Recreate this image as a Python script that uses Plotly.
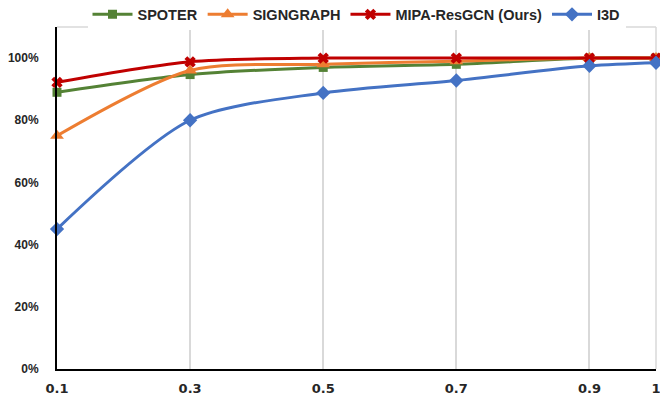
import plotly.graph_objects as go

x_vals = [0.1, 0.3, 0.5, 0.7, 0.9, 1.0]
x_ticks = ["0.1", "0.3", "0.5", "0.7", "0.9", "1"]
spoter = [0.89, 0.947, 0.97, 0.98, 1.0, 1.0]
signgraph = [0.75, 0.96, 0.98, 0.99, 1.0, 1.0]
mipa = [0.922, 0.988, 1.0, 1.0, 1.0, 1.0]
i3d = [0.45, 0.80, 0.888, 0.928, 0.975, 0.985]

series = [
    ("SPOTER", spoter, "#548235", "square", 9),
    ("SIGNGRAPH", signgraph, "#ED7D31", "triangle-up", 12),
    ("MIPA-ResGCN (Ours)", mipa, "#C00000", "x", 10),
    ("I3D", i3d, "#4472C4", "diamond", 11),
]

fig = go.Figure()
for name, vals, color, sym, msize in series:
    fig.add_trace(go.Scatter(
        x=x_vals, y=vals, name=name, mode="lines+markers",
        line=dict(color=color, width=3, shape="spline", smoothing=0.8),
        marker=dict(symbol=sym, size=msize, color=color),
        cliponaxis=False,
    ))

fig.update_layout(
    width=660, height=401,
    margin=dict(l=57, r=4, t=27, b=32, autoexpand=False),
    plot_bgcolor="white", paper_bgcolor="white",
    font=dict(family="DejaVu Sans", color="#262626"),
    legend=dict(orientation="h", x=0.5, xanchor="center", y=0.99, yanchor="bottom",
                font=dict(family="Liberation Sans", size=14.5, color="#262626", weight="bold"),
                itemwidth=40, tracegroupgap=0, traceorder="normal"),
    showlegend=True,
)
fig.update_xaxes(
    range=[0.1, 1.0], tickvals=x_vals, ticktext=x_ticks,
    showgrid=True, gridcolor="#D9D9D9", gridwidth=1.5,
    showline=True, linecolor="black", linewidth=2,
    ticks="", ticklabelstandoff=6, automargin=False, ticklabeloverflow="allow",
    tickfont=dict(family="DejaVu Sans", size=13, weight="bold", color="#262626"),
    zeroline=False,
)
fig.update_yaxes(
    range=[0, 1.1], tickvals=[0, 0.2, 0.4, 0.6, 0.8, 1.0],
    tickformat=".0%", showgrid=False,
    showline=True, linecolor="black", linewidth=2,
    ticks="", ticklabelstandoff=14, automargin=False,
    tickfont=dict(family="Liberation Sans", size=12, weight="bold", color="#262626"),
    zeroline=False,
)
fig.add_shape(type="line", xref="paper", yref="paper", x0=0, x1=1, y0=1, y1=1,
              line=dict(color="#D9D9D9", width=1.5), layer="below")
fig.add_shape(type="line", xref="paper", yref="paper", x0=1, x1=1, y0=0, y1=1,
              line=dict(color="#D9D9D9", width=1.5), layer="below")

fig.write_html("out.html", config={"displayModeBar": False},
               post_script="document.body.style.margin='0';document.body.style.overflow='hidden';")
